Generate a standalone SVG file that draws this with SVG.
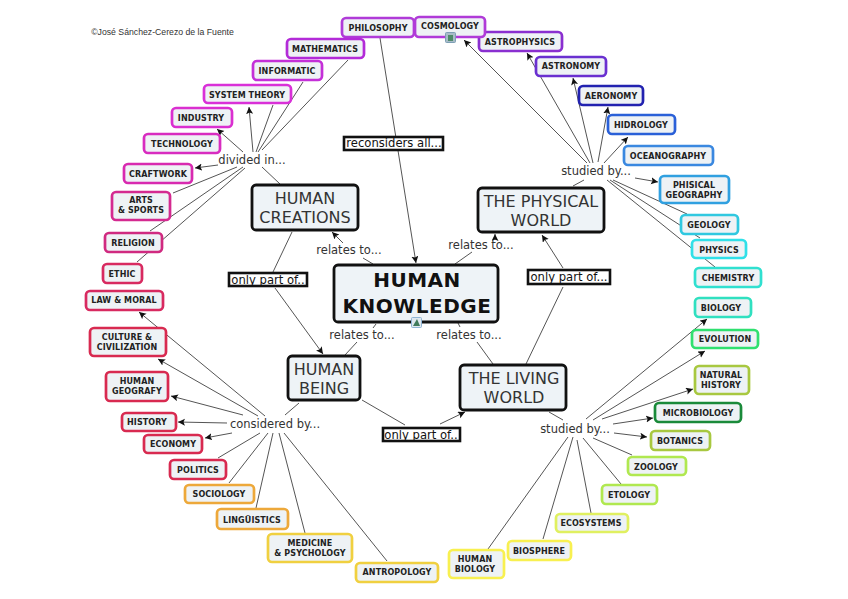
<svg xmlns="http://www.w3.org/2000/svg" width="848" height="599" viewBox="0 0 848 599">
<defs><marker id="a" markerWidth="8" markerHeight="8" refX="7" refY="3.5" orient="auto" markerUnits="userSpaceOnUse"><path d="M0 0L7 3.5L0 7L1.5 3.5z" fill="#111"/></marker></defs>
<style>
text{font-family:"DejaVu Sans","Liberation Sans",sans-serif;text-anchor:middle;fill:#222}
.n rect{fill:#eef2f5;stroke-width:2.7}
.n text{font-size:8px;font-weight:700;letter-spacing:.1px}
.m rect{fill:#eef3f7;stroke:#111;stroke-width:2.8}
.m text{font-size:16px;fill:#333}
.l{font-size:11.5px;fill:#333}
.b rect{fill:#fff;stroke:#111;stroke-width:2.6}
.b text{font-size:11.6px;fill:#111}
#connectors line{stroke:#555;stroke-width:1;fill:none}
.h{marker-end:url(#a)}
</style>
<rect width="848" height="599" fill="#fff"/>
<text x="162.500" y="35" style="font-size:8.700px;font-family:'Liberation Sans',sans-serif;fill:#333">©José Sánchez-Cerezo de la Fuente</text>
<g id="connectors">
<line x1="380" y1="38" x2="416" y2="263" class="h"/>
<line x1="348" y1="60" x2="262" y2="150"/><line x1="303" y1="82" x2="258" y2="152"/><line x1="273" y1="105" x2="256" y2="152"/><line x1="253" y1="152" x2="249" y2="107" class="h"/><line x1="243" y1="152" x2="217" y2="129" class="h"/><line x1="218" y1="165" x2="195" y2="168" class="h"/>
<line x1="237" y1="167" x2="173" y2="193"/><line x1="243" y1="167" x2="150" y2="231"/><line x1="245" y1="168" x2="137" y2="262"/><line x1="262" y1="167" x2="280" y2="184"/>
<line x1="292" y1="232" x2="273" y2="272"/><line x1="343" y1="243" x2="332" y2="232" class="h"/><line x1="363" y1="258" x2="373" y2="264"/>
<line x1="275" y1="288" x2="323" y2="354" class="h"/><line x1="376" y1="324" x2="373" y2="328"/><line x1="357" y1="342" x2="345" y2="355"/>
<line x1="455" y1="264" x2="472" y2="252"/><line x1="495" y1="240" x2="495" y2="234" class="h"/>
<line x1="563" y1="268" x2="542" y2="235" class="h"/><line x1="563" y1="287" x2="526" y2="364"/>
<line x1="458" y1="323" x2="460" y2="327"/><line x1="477" y1="342" x2="493" y2="364"/>
<line x1="362" y1="400" x2="405" y2="425"/><line x1="440" y1="424" x2="465" y2="412" class="h"/>
<line x1="584" y1="180" x2="573" y2="186"/>
<line x1="587" y1="163" x2="464" y2="40" class="h"/><line x1="590" y1="163" x2="527" y2="53" class="h"/><line x1="593" y1="163" x2="573" y2="78" class="h"/><line x1="598" y1="162" x2="608" y2="107" class="h"/><line x1="604" y1="163" x2="628" y2="137" class="h"/><line x1="635" y1="178" x2="658" y2="182" class="h"/>
<line x1="613" y1="180" x2="687" y2="214"/><line x1="610" y1="180" x2="700" y2="238"/><line x1="607" y1="180" x2="715" y2="267"/>
<line x1="586" y1="419" x2="707" y2="319" class="h"/><line x1="593" y1="420" x2="705" y2="351" class="h"/><line x1="602" y1="419" x2="693" y2="389" class="h"/><line x1="613" y1="424" x2="653" y2="418" class="h"/><line x1="614" y1="433" x2="647" y2="437" class="h"/>
<line x1="593" y1="438" x2="632" y2="455"/><line x1="583" y1="438" x2="621" y2="484"/><line x1="577" y1="440" x2="591" y2="513"/><line x1="573" y1="437" x2="543" y2="539"/><line x1="568" y1="437" x2="488" y2="549"/>
<line x1="549" y1="412" x2="563" y2="420"/>
<line x1="265" y1="416" x2="139" y2="312" class="h"/><line x1="258" y1="416" x2="158" y2="359" class="h"/><line x1="243" y1="415" x2="171" y2="396" class="h"/><line x1="227" y1="423" x2="178" y2="422" class="h"/><line x1="232" y1="433" x2="205" y2="438" class="h"/>
<line x1="260" y1="433" x2="218" y2="458"/><line x1="268" y1="433" x2="229" y2="483"/><line x1="273" y1="433" x2="256" y2="508"/><line x1="279" y1="433" x2="305" y2="533"/><line x1="284" y1="433" x2="387" y2="561"/>
<line x1="285" y1="415" x2="299" y2="403"/>
</g>
<g id="n-philosophy" class="n"><rect x="342" y="18" width="72" height="19" rx="4" stroke="#b03bd8"/><text x="378" y="31">PHILOSOPHY</text></g>
<g id="n-astrophysics" class="n"><rect x="479" y="32" width="83" height="19" rx="4" stroke="#8a2fd0"/><text x="520" y="45">ASTROPHYSICS</text></g>
<g id="n-cosmology" class="n"><rect x="415" y="17" width="70" height="20" rx="4" stroke="#b03bd8"/><text x="450" y="29">COSMOLOGY</text><rect x="445.500" y="32.500" width="10" height="10" rx="1" style="fill:#a8bcc8;stroke:#7d9fb5;stroke-width:1"/><rect x="448" y="35" width="5" height="6" style="fill:#4f8a6a;stroke:none"/></g>
<g id="n-mathematics" class="n"><rect x="287" y="39" width="77" height="19" rx="4" stroke="#b32bd8"/><text x="325" y="52">MATHEMATICS</text></g>
<g id="n-informatic" class="n"><rect x="253" y="61" width="69" height="19" rx="4" stroke="#c430d8"/><text x="287" y="74">INFORMATIC</text></g>
<g id="n-system" class="n"><rect x="204" y="85" width="87" height="18" rx="4" stroke="#d930d8"/><text x="247" y="98">SYSTEM THEORY</text></g>
<g id="n-industry" class="n"><rect x="172" y="108" width="60" height="19" rx="4" stroke="#da2fd0"/><text x="201" y="121">INDUSTRY</text></g>
<g id="n-technology" class="n"><rect x="144" y="134" width="76" height="19" rx="4" stroke="#d82cc0"/><text x="182" y="147">TECHNOLOGY</text></g>
<g id="n-craftwork" class="n"><rect x="124" y="164" width="68" height="19" rx="4" stroke="#d82ab0"/><text x="158" y="177">CRAFTWORK</text></g>
<g id="n-arts" class="n"><rect x="112" y="192" width="58" height="28" rx="4" stroke="#d42a90"/><text x="141" y="203">ARTS</text><text x="141" y="213">&amp; SPORTS</text></g>
<g id="n-religion" class="n"><rect x="105" y="233" width="57" height="19" rx="4" stroke="#d02a80"/><text x="133" y="246">RELIGION</text></g>
<g id="n-ethic" class="n"><rect x="103" y="264" width="39" height="19" rx="4" stroke="#d82a60"/><text x="122" y="277">ETHIC</text></g>
<g id="n-law" class="n"><rect x="86" y="291" width="77" height="19" rx="4" stroke="#d82a60"/><text x="124" y="303">LAW &amp; MORAL</text></g>
<g id="n-culture" class="n"><rect x="90" y="328" width="76" height="28" rx="4" stroke="#d82a50"/><text x="127" y="340">CULTURE &amp;</text><text x="127" y="350">CIVILIZATION</text></g>
<g id="n-geo" class="n"><rect x="106" y="372" width="62" height="29" rx="4" stroke="#d82a50"/><text x="137" y="384">HUMAN</text><text x="137" y="394">GEOGRAFY</text></g>
<g id="n-history" class="n"><rect x="122" y="413" width="54" height="18" rx="4" stroke="#d82a50"/><text x="147" y="425">HISTORY</text></g>
<g id="n-economy" class="n"><rect x="144" y="435" width="58" height="18" rx="4" stroke="#d82a50"/><text x="173" y="447">ECONOMY</text></g>
<g id="n-politics" class="n"><rect x="170" y="460" width="56" height="19" rx="4" stroke="#d82a50"/><text x="198" y="473">POLITICS</text></g>
<g id="n-sociology" class="n"><rect x="185" y="485" width="69" height="18" rx="4" stroke="#eda83a"/><text x="219" y="497">SOCIOLOGY</text></g>
<g id="n-ling" class="n"><rect x="217" y="509" width="71" height="20" rx="4" stroke="#eda83a"/><text x="252" y="523">LINGÜISTICS</text></g>
<g id="n-med" class="n"><rect x="268" y="534" width="84" height="28" rx="4" stroke="#f0d040"/><text x="310" y="546">MEDICINE</text><text x="310" y="556">&amp; PSYCHOLOGY</text></g>
<g id="n-antro" class="n"><rect x="356" y="563" width="82" height="19" rx="4" stroke="#f0d040"/><text x="397" y="575">ANTROPOLOGY</text></g>
<g id="n-astronomy" class="n"><rect x="536" y="57" width="70" height="19" rx="4" stroke="#6a30d0"/><text x="571" y="69">ASTRONOMY</text></g>
<g id="n-aeronomy" class="n"><rect x="579" y="86" width="64" height="19" rx="4" stroke="#2222b0"/><text x="611" y="99">AERONOMY</text></g>
<g id="n-hidrology" class="n"><rect x="608" y="115" width="67" height="19" rx="4" stroke="#2a60d8"/><text x="641" y="128">HIDROLOGY</text></g>
<g id="n-ocean" class="n"><rect x="624" y="146" width="89" height="19" rx="4" stroke="#3a88e0"/><text x="668" y="159">OCEANOGRAPHY</text></g>
<g id="n-phisical" class="n"><rect x="660" y="176" width="69" height="27" rx="4" stroke="#30a0e0"/><text x="694" y="188">PHISICAL</text><text x="694" y="198">GEOGRAPHY</text></g>
<g id="n-geology" class="n"><rect x="681" y="215" width="57" height="19" rx="4" stroke="#30c8e0"/><text x="709" y="228">GEOLOGY</text></g>
<g id="n-physics" class="n"><rect x="692" y="240" width="54" height="18" rx="4" stroke="#30e0e8"/><text x="719" y="253">PHYSICS</text></g>
<g id="n-chem" class="n"><rect x="695" y="268" width="66" height="19" rx="4" stroke="#30e0d0"/><text x="728" y="281">CHEMISTRY</text></g>
<g id="n-biology" class="n"><rect x="695" y="298" width="56" height="19" rx="4" stroke="#30e0c0"/><text x="721" y="311">BIOLOGY</text></g>
<g id="n-evolution" class="n"><rect x="692" y="330" width="66" height="18" rx="4" stroke="#30e070"/><text x="725" y="342">EVOLUTION</text></g>
<g id="n-natural" class="n"><rect x="695" y="366" width="54" height="28" rx="4" stroke="#a8c840"/><text x="721" y="378">NATURAL</text><text x="721" y="388">HISTORY</text></g>
<g id="n-micro" class="n"><rect x="655" y="403" width="86" height="19" rx="4" stroke="#1a8a3a"/><text x="698" y="416">MICROBIOLOGY</text></g>
<g id="n-botanics" class="n"><rect x="651" y="431" width="59" height="19" rx="4" stroke="#a8c840"/><text x="680" y="444">BOTANICS</text></g>
<g id="n-zoology" class="n"><rect x="628" y="457" width="58" height="18" rx="4" stroke="#b0e850"/><text x="656" y="470">ZOOLOGY</text></g>
<g id="n-etology" class="n"><rect x="602" y="485" width="55" height="19" rx="4" stroke="#b0e850"/><text x="629" y="498">ETOLOGY</text></g>
<g id="n-eco" class="n"><rect x="556" y="514" width="72" height="18" rx="4" stroke="#e0f060"/><text x="591" y="526">ECOSYSTEMS</text></g>
<g id="n-bio" class="n"><rect x="508" y="541" width="63" height="19" rx="4" stroke="#f8f050"/><text x="539" y="554">BIOSPHERE</text></g>
<g id="n-hb" class="n"><rect x="449" y="550" width="55" height="28" rx="4" stroke="#f8f050"/><text x="475" y="562">HUMAN</text><text x="475" y="572">BIOLOGY</text></g>
<g id="n-creations" class="m"><rect x="252" y="185" width="106" height="45" rx="4"/><text x="305" y="204">HUMAN</text><text x="305" y="223">CREATIONS</text></g>
<g id="n-physical" class="m"><rect x="478" y="188" width="126" height="44" rx="4"/><text x="541" y="207">THE PHYSICAL</text><text x="541" y="226">WORLD</text></g>
<g id="n-being" class="m"><rect x="288" y="356" width="72" height="44" rx="4"/><text x="324" y="375">HUMAN</text><text x="324" y="394">BEING</text></g>
<g id="n-living" class="m"><rect x="460" y="365" width="106" height="45" rx="4"/><text x="514" y="384">THE LIVING</text><text x="514" y="403">WORLD</text></g>
<g id="n-knowledge" class="m"><rect x="334" y="265" width="164" height="57" rx="4"/><text x="417" y="287" style="font-size:20px;font-weight:700;fill:#111;letter-spacing:.5px">HUMAN</text><text x="417" y="313" style="font-size:20px;font-weight:700;fill:#111;letter-spacing:.5px">KNOWLEDGE</text><rect x="411.500" y="317.500" width="10" height="10" rx="1" style="fill:#dfe8ef;stroke:#8fb5d5;stroke-width:1"/><path d="M413 326L417 319L420 326z" fill="#3f7a5a"/></g>
<text class="l" x="252" y="164">divided in...</text>
<text class="l" x="596" y="175">studied by...</text>
<text class="l" x="275" y="428">considered by...</text>
<text class="l" x="575" y="433">studied by...</text>
<text class="l" x="349" y="254">relates to...</text>
<text class="l" x="481" y="249">relates to...</text>
<text class="l" x="362" y="339">relates to...</text>
<text class="l" x="469" y="339">relates to...</text>
<g class="b" id="b1"><rect x="344" y="137" width="99" height="13"/><text x="394" y="147">reconsiders all...</text></g>
<g class="b" id="b2"><rect x="229" y="273" width="78" height="13"/><text x="268" y="284">only part of..</text></g>
<g class="b" id="b3"><rect x="528" y="270" width="82" height="14"/><text x="569" y="281">only part of...</text></g>
<g class="b" id="b4"><rect x="383" y="428" width="77" height="13"/><text x="421" y="439">only part of..</text></g>
</svg>
